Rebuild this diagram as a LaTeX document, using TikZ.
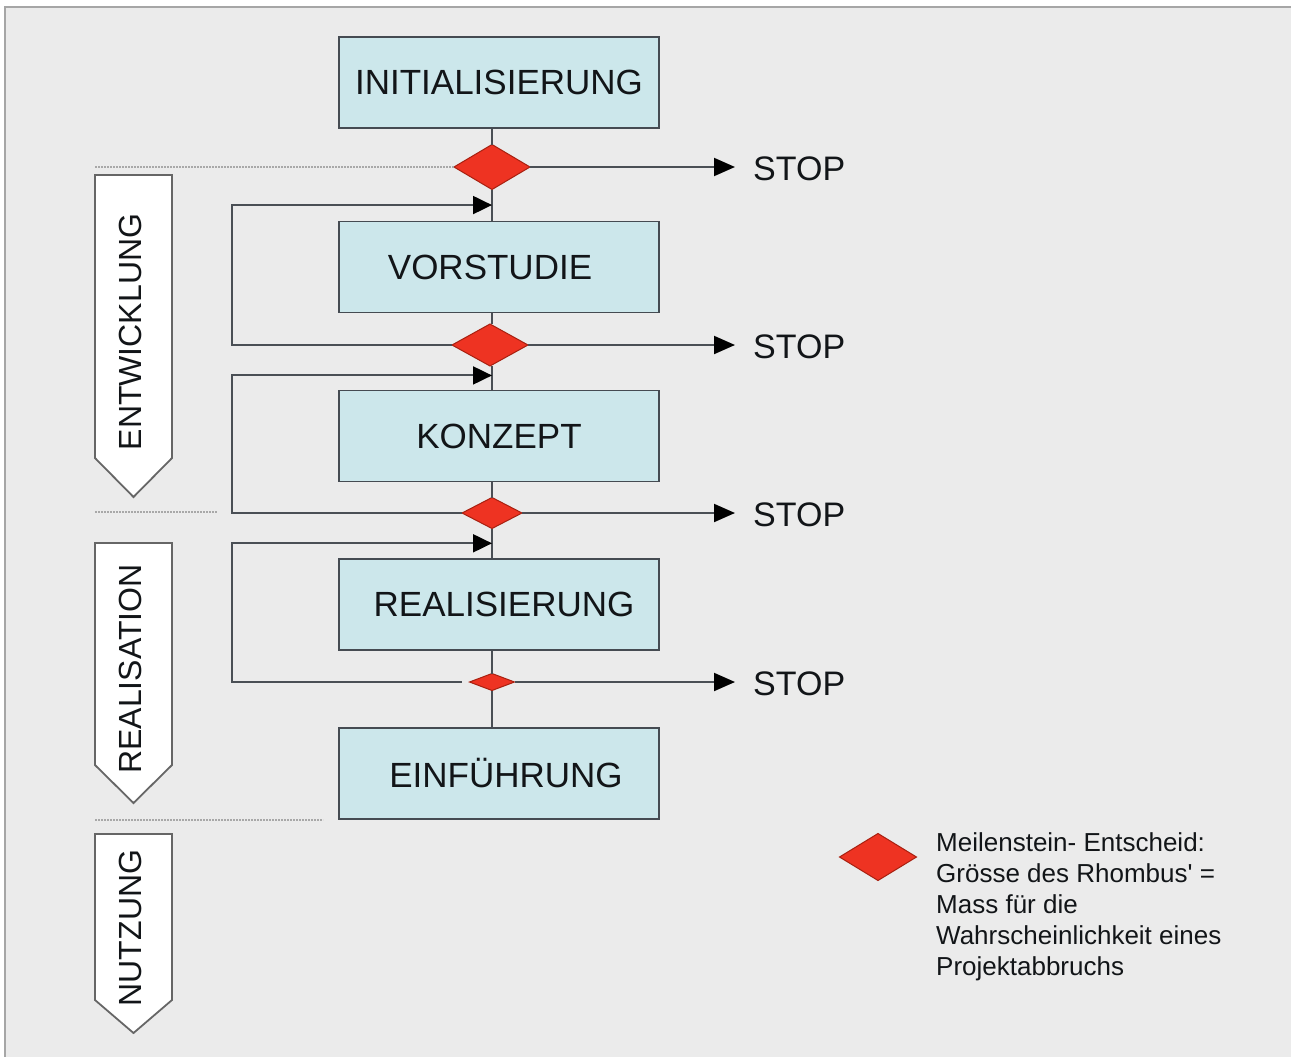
\documentclass[tikz,border=0pt]{standalone}
\usepackage{fontspec}
\setmainfont{Liberation Sans}
\newfontfamily\legendfont{Liberation Sans}
\usetikzlibrary{shapes.geometric,arrows.meta,positioning,calc}

\definecolor{framefill}{HTML}{EBEBEB}
\definecolor{frameline}{HTML}{A6A6A6}
\definecolor{boxfill}{HTML}{CCE7EB}
\definecolor{boxline}{HTML}{454B52}
\definecolor{mred}{HTML}{EE3322}
\definecolor{mredline}{HTML}{A82010}
\definecolor{linecol}{HTML}{4A4F55}
\definecolor{textcol}{HTML}{121518}
\definecolor{phaseline}{HTML}{666666}
\definecolor{sepline}{HTML}{A8A8A8}

\begin{document}
\begin{tikzpicture}[x=1pt,y=-1pt,
    box/.style={draw=boxline, fill=boxfill, line width=1.8pt, minimum width=320pt,
      minimum height=91pt, inner sep=0pt, font=\fontsize{35}{42}\selectfont, text=textcol},
    mstone/.style={diamond, draw=mredline, fill=mred, line width=1pt, inner sep=0pt, outer sep=0pt},
    flow/.style={draw=linecol, line width=2pt},
    stoparrow/.style={flow, -{Triangle[length=21pt,width=18pt,color=black]}},
    backarrow/.style={flow, -{Triangle[length=19pt,width=18pt,color=black]}},
    stoptext/.style={font=\fontsize{34}{40}\selectfont, inner sep=0pt, text=textcol},
    phasearrow/.style={draw=phaseline, fill=white, line width=1.8pt},
    phasetext/.style={rotate=90, font=\fontsize{32}{38}\selectfont, inner sep=0pt, text=textcol},
    septrack/.style={draw=sepline, line width=1.6pt, dash pattern=on 2pt off 1pt},
    legendtext/.style={font=\legendfont\fontsize{26}{31}\selectfont, align=left, inner sep=0pt, text=textcol},
  ]
    \useasboundingbox (0,0) rectangle (1291,1057);
    % frame
    \fill[framefill] (5,7) rectangle (1300,1070);
    \draw[frameline, line width=1.5pt] (5,1070) -- (5,7) -- (1300,7);

    % phases
    \node[box] (init) at (499,82.5) {INITIALISIERUNG};
    \node[box] (vor) at (499,267) {\hspace*{-18pt}VORSTUDIE};
    \node[box] (kon) at (499,436) {KONZEPT};
    \node[box] (real) at (499,604.5) {REALISIERUNG\hspace*{-10pt}};
    \node[box] (einf) at (499,773.5) {EINFÜHRUNG\hspace*{-14pt}};

    % milestones
    \node[mstone, minimum width=76pt, minimum height=45pt] (m1) at (492,167) {};
    \node[mstone, minimum width=76pt, minimum height=42pt] (m2) at (490,345) {};
    \node[mstone, minimum width=60pt, minimum height=31pt] (m3) at (492,513) {};
    \node[mstone, minimum width=45pt, minimum height=17pt] (m4) at (492,682) {};

    % spine
    \draw[flow] (init.south -| m1) -- (m1.north);
    \draw[flow] (m1.south) -- (m1.south |- vor.north);
    \draw[flow] (vor.south -| m1) -- (m2.north -| m1);
    \draw[flow] (m2.south -| m1) -- (m1.south |- kon.north);
    \draw[flow] (kon.south -| m3) -- (m3.north);
    \draw[flow] (m3.south) -- (m3.south |- real.north);
    \draw[flow] (real.south -| m4) -- (m4.north);
    \draw[flow] (m4.south) -- (m4.south |- einf.north);

    % loops back
    \coordinate (back) at (232,0);
    \coordinate (in1) at ($(m1.south)!.5!(m1.south |- vor.north)$);
    \coordinate (in2) at ($(m1.south |- m2.south)!.4!(m1.south |- kon.north)$);
    \coordinate (in3) at ($(m3.south)!.5!(m3.south |- real.north)$);
    \draw[backarrow] (m2.west) -- (m2.west -| back) |- (in1);
    \draw[backarrow] (m3.west) -- (m3.west -| back) |- (in2);
    \draw[backarrow, shorten <=8pt] (m4.west) -- (m4.west -| back) |- (in3);

    % stop
    \coordinate (stopx) at (735,0);
    \coordinate (s1) at (m1.east -| stopx);
    \coordinate (s2) at (m2.east -| stopx);
    \coordinate (s3) at (m3.east -| stopx);
    \coordinate (s4) at (m4.east -| stopx);
    \draw[stoparrow] (m1.east) -- (s1);
    \draw[stoparrow] (m2.east) -- (s2);
    \draw[stoparrow] (m3.east) -- (s3);
    \draw[stoparrow] (m4.east) -- (s4);
    \node[stoptext, right=18pt of s1, yshift=-2pt] (stop1) {STOP};
    \node[stoptext, right=18pt of s2, yshift=-2pt] (stop2) {STOP};
    \node[stoptext, right=18pt of s3, yshift=-2pt] (stop3) {STOP};
    \node[stoptext, right=18pt of s4, yshift=-2pt] (stop4) {STOP};

    % project stages
    \draw[septrack] (95,167) -- (m1.west);
    \draw[septrack] (95,512) -- (217,512);
    \draw[septrack] (95,820) -- (323,820);
    \draw[phasearrow] (95,175) -- (172,175) -- (172,458) -- (133.5,497) -- (95,458) -- cycle;
    \node[phasetext] (entw) at (130,332) {ENTWICKLUNG};
    \draw[phasearrow] (95,543) -- (172,543) -- (172,765) -- (133.5,803) -- (95,765) -- cycle;
    \node[phasetext] (realis) at (130,669) {REALISATION};
    \draw[phasearrow] (95,834) -- (172,834) -- (172,1000) -- (133.5,1033) -- (95,1000) -- cycle;
    \node[phasetext] (nutz) at (130,928) {NUTZUNG};

    % legend
    \node[mstone, minimum width=77pt, minimum height=47pt] (legend) at (878,857) {};
    \node[legendtext, anchor=north west] (legtext) at (936,832)
      {Meilenstein- Entscheid:\\Grösse des Rhombus' =\\Mass für die\\Wahrscheinlichkeit eines\\Projektabbruchs};
\end{tikzpicture}
\end{document}
